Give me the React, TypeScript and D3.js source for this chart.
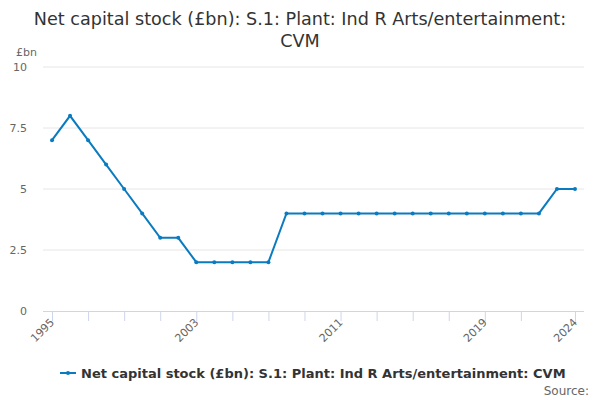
import React from "react";
import * as d3 from "d3";

const years: number[] = d3.range(1995, 2025);
const values: number[] = [7, 8, 7, 6, 5, 4, 3, 3, 2, 2, 2, 2, 2, 4, 4, 4, 4, 4, 4, 4, 4, 4, 4, 4, 4, 4, 4, 4, 5, 5];
const yTicks: number[] = [0, 2.5, 5, 7.5, 10];
const xTickYears: number[] = [1995, 1997, 1999, 2001, 2003, 2005, 2007, 2009, 2011, 2013, 2015, 2017, 2019, 2021, 2024];
const xLabelYears: number[] = [1995, 2003, 2011, 2019, 2024];
const titleLines: string[] = ["Net capital stock (£bn): S.1: Plant: Ind R Arts/entertainment:", "CVM"];
const seriesName = "Net capital stock (£bn): S.1: Plant: Ind R Arts/entertainment: CVM";
const unit = "£bn";
const source = "Source:";

const W = 600, H = 400;
const left = 43, right = 584, top = 67, bottom = 311;
const color = "#0b7bc0";
const font = "'DejaVu Sans', sans-serif";

export default function App() {
  const x = d3.scaleLinear().domain([1994.5, 2024.5]).range([left, right]);
  const y = d3.scaleLinear().domain([0, 10]).range([bottom, top]);
  const line = d3.line<number>().x((_, i) => x(years[i])).y((d) => y(d));
  return (
    <svg width={W} height={H} style={{ position: "absolute", left: 0, top: 0, fontFamily: font }}>
      <rect width={W} height={H} fill="#fff" />
      {titleLines.map((t, i) => (
        <text key={i} x={300} y={25 + i * 22} textAnchor="middle" fontSize={17.6} fill="#333">{t}</text>
      ))}
      <text x={16} y={56} fontSize={11} fill="#666">{unit}</text>
      {yTicks.map((v) => (
        <g key={v}>
          {v !== 0 && <line x1={left} x2={right} y1={y(v)} y2={y(v)} stroke="#e6e6e6" />}
          <text x={27} y={y(v) + 4} textAnchor="end" fontSize={11} fill="#666">{String(v)}</text>
        </g>
      ))}
      <line x1={left} x2={right} y1={bottom + 0.5} y2={bottom + 0.5} stroke="#ccd6eb" />
      {xTickYears.map((yr) => (
        <line key={yr} x1={x(yr) + 0.5} x2={x(yr) + 0.5} y1={bottom} y2={bottom + 10} stroke="#ccd6eb" />
      ))}
      {xLabelYears.map((yr) => (
        <text key={yr} transform={`translate(${x(yr) + 3},${bottom + 12}) rotate(-45)`} textAnchor="end" fontSize={11} fill="#666">{yr}</text>
      ))}
      <path d={line(values) ?? ""} fill="none" stroke={color} strokeWidth={2} />
      {values.map((v, i) => (
        <circle key={i} cx={x(years[i])} cy={y(v)} r={2} fill={color} />
      ))}
      <g>
        <line x1={60} x2={76} y1={373} y2={373} stroke={color} strokeWidth={2} />
        <circle cx={68} cy={373} r={2} fill={color} />
        <text x={81} y={377.5} fontSize={13} fontWeight="bold" fill="#333">{seriesName}</text>
      </g>
      <text x={589} y={395} textAnchor="end" fontSize={12} fill="#666">{source}</text>
    </svg>
  );
}
